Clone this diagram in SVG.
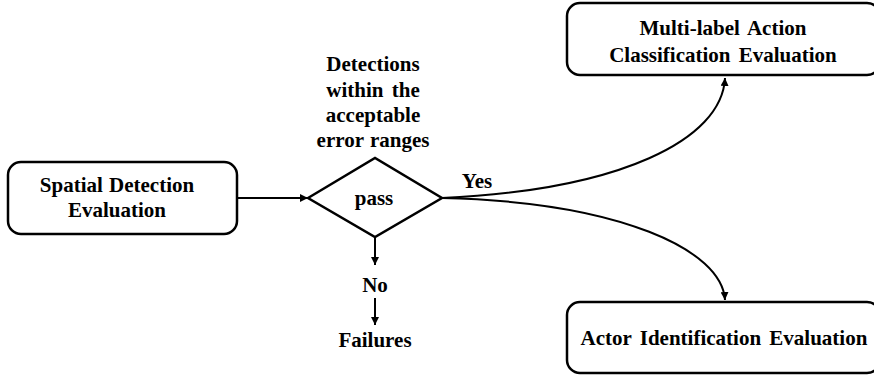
<svg xmlns="http://www.w3.org/2000/svg" width="874" height="376" viewBox="0 0 874 376">
  <defs>
    <marker id="arrow" viewBox="0 0 10 10" refX="10" refY="5" markerWidth="8" markerHeight="8" markerUnits="userSpaceOnUse" orient="auto">
      <path d="M0,0 L10,5 L0,10 Z" fill="#000"/>
    </marker>
    <style>
      .box { fill: #fff; stroke: #000; stroke-width: 2.5; }
      .edge { fill: none; stroke: #000; stroke-width: 2; }
      .lbl { font-family: 'Liberation Serif', 'Times New Roman', serif; font-weight: 700; font-size: 21px; fill: #000; text-anchor: middle; word-spacing: 1px; }
      .wide { word-spacing: 3px; }
    </style>
  </defs>
  <rect width="874" height="376" fill="#fff"/>

  <!-- connectors -->
  <g id="connectors">
    <path class="edge" d="M237,198 L308,198" marker-end="url(#arrow)"/>
    <path class="edge" d="M375,237 L375,265" marker-end="url(#arrow)"/>
    <path class="edge" d="M375,298 L375,325" marker-end="url(#arrow)"/>
    <path class="edge" d="M442,198 C620,190 722,140 725,78" marker-end="url(#arrow)"/>
    <path class="edge" d="M442,198 C620,202 722,250 725,300" marker-end="url(#arrow)"/>
    <text class="lbl" x="477" y="188">Yes</text>
    <text class="lbl" x="375" y="292">No</text>
  </g>

  <g id="spatial">
    <rect class="box" x="8" y="162" width="229" height="72" rx="13"/>
    <text class="lbl" x="117" y="192">Spatial Detection</text>
    <text class="lbl" x="117" y="217">Evaluation</text>
  </g>

  <g id="pass">
    <path class="box" d="M308,198 L375,158 L442,198 L375,237 Z"/>
    <text class="lbl" x="374" y="205">pass</text>
  </g>

  <g id="condition">
    <text class="lbl" x="373" y="71">Detections</text>
    <text class="lbl wide" x="373" y="97">within the</text>
    <text class="lbl" x="373" y="122">acceptable</text>
    <text class="lbl" x="373" y="147">error ranges</text>
  </g>

  <g id="failures">
    <text class="lbl" x="375" y="347">Failures</text>
  </g>

  <g id="action">
    <rect class="box" x="567" y="3" width="313" height="72" rx="13"/>
    <text class="lbl wide" x="723" y="35">Multi-label Action</text>
    <text class="lbl wide" x="723" y="62">Classification Evaluation</text>
  </g>

  <g id="actor">
    <rect class="box" x="567" y="302" width="313" height="71" rx="13"/>
    <text class="lbl wide" x="724" y="345">Actor Identification Evaluation</text>
  </g>
</svg>
